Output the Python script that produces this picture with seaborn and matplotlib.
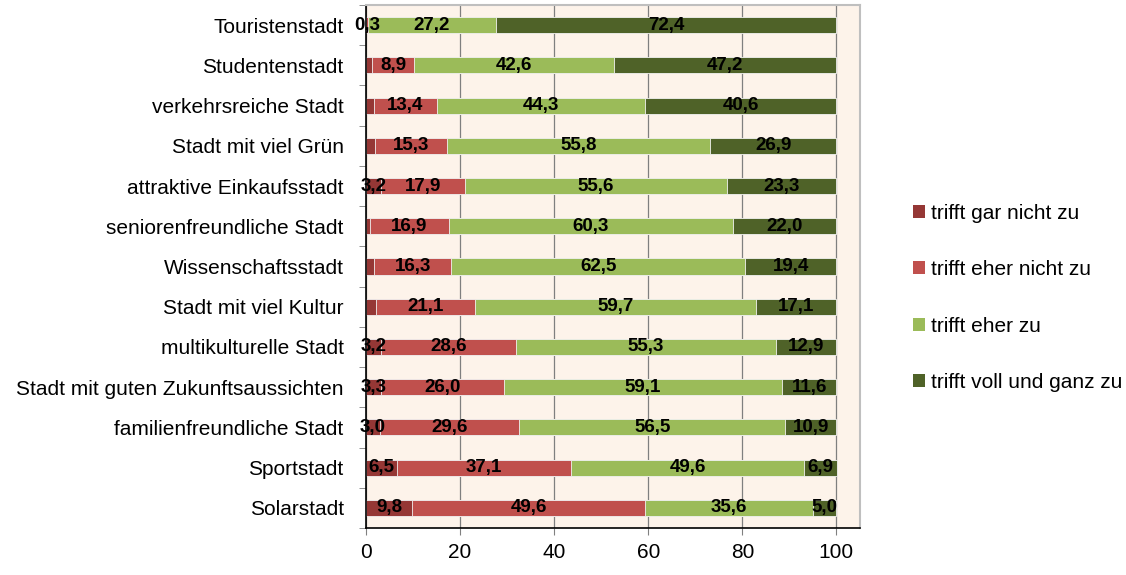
#!/usr/bin/env python3

from matplotlib import pyplot as plt
from matplotlib.patches import Patch
import numpy as np
import pandas as pd
import seaborn as sns


categories = [
        "Touristenstadt", "Studentenstadt", "verkehrsreiche Stadt",
        "Stadt mit viel Grün", "attraktive Einkaufsstadt",
        "seniorenfreundliche Stadt", "Wissenschaftsstadt",
        "Stadt mit viel Kultur", "multikulturelle Stadt",
        "Stadt mit guten Zukunftsaussichten", "familienfreundliche Stadt",
        "Sportstadt", "Solarstadt",
        ]
gar_nicht = [0.1, 1.3, 1.7, 2.0, 3.2, 0.8, 1.8, 2.1, 3.2, 3.3, 3.0, 6.5, 9.8]
eher_nicht = [0.3, 8.9, 13.4, 15.3, 17.9, 16.9, 16.3, 21.1, 28.6, 26.0, 29.6,
              37.1, 49.6]
eher_zu = [27.2, 42.6, 44.3, 55.8, 55.6, 60.3, 62.5, 59.7, 55.3, 59.1, 56.5,
           49.6, 35.6]
voll = [72.4, 47.2, 40.6, 26.9, 23.3, 22.0, 19.4, 17.1, 12.9, 11.6, 10.9,
        6.9, 5.0]
series_names = [
        "trifft gar nicht zu", "trifft eher nicht zu",
        "trifft eher zu", "trifft voll und ganz zu",
        ]
colors = ["#953735", "#C0504D", "#9BBB59", "#4F6228"]


def fmt(v):
    return f"{v:.1f}".replace(".", ",")


def main():
    df = pd.DataFrame({
            "Kategorie": categories,
            series_names[0]: gar_nicht,
            series_names[1]: eher_nicht,
            series_names[2]: eher_zu,
            series_names[3]: voll,
            })
    cum = df[series_names].cumsum(axis=1)

    sns.set_style("white")
    plt.rcParams["font.family"] = ["Liberation Sans", "DejaVu Sans"]
    plt.rcParams["text.color"] = "black"
    plt.rcParams["xtick.color"] = "black"
    plt.rcParams["ytick.color"] = "black"

    fig = plt.figure(figsize=(11.26, 5.75), dpi=100)
    ax = fig.add_axes([0.325, 0.0817, 0.4387, 0.9096])
    ax.set_facecolor("#FDF3EA")

    # stacked bars: draw cumulative totals from the longest down
    for name, color in reversed(list(zip(series_names, colors))):
        sns.barplot(
                x=cum[name], y=df["Kategorie"], color=color, orient="h",
                width=0.4, ax=ax, edgecolor="#F2F2F2", linewidth=0.6,
                saturation=1,
                )

    for i in range(len(df)):
        for name in series_names:
            v = df.loc[i, name]
            if name == series_names[0] and v < 3:
                continue
            x = cum.loc[i, name] - v / 2
            ax.text(x, i, fmt(v), ha="center", va="center",
                    fontsize=13.5, fontweight="bold", color="black")

    ax.set_xlim(0, 105)
    ax.set_ylim(len(df) - 0.5, -0.5)
    ax.set_xticks(range(0, 101, 20))
    ax.set_xlabel("")
    ax.set_ylabel("")
    ax.set_axisbelow(True)
    ax.grid(axis="x", color="#7F7F7F", linewidth=0.9)
    ax.grid(axis="y", visible=False)

    ax.set_yticks(np.arange(-0.5, len(df)), minor=True)
    ax.tick_params(axis="y", which="major", length=0, pad=16, labelsize=15,
                   labelcolor="black")
    ax.tick_params(axis="y", which="minor", length=5, color="#808080",
                   direction="out", left=True)
    ax.tick_params(axis="x", length=5, color="#808080", direction="out",
                   bottom=True, pad=6, labelsize=15, labelcolor="black")

    for side in ["left", "bottom"]:
        ax.spines[side].set_color("black")
        ax.spines[side].set_linewidth(1.2)
    for side in ["top", "right"]:
        ax.spines[side].set_color("#BFBFBF")
        ax.spines[side].set_linewidth(1.5)

    handles = [Patch(facecolor=c, edgecolor="none") for c in colors]
    fig.legend(
            handles, series_names, loc="center left",
            bbox_to_anchor=(0.802, 0.482), frameon=False, fontsize=15,
            handlelength=0.55, handleheight=0.55, handletextpad=0.3,
            labelspacing=1.8, borderpad=0,
            )

    fig.savefig("out.png", dpi=100, facecolor="white")


if __name__ == "__main__":
    main()
